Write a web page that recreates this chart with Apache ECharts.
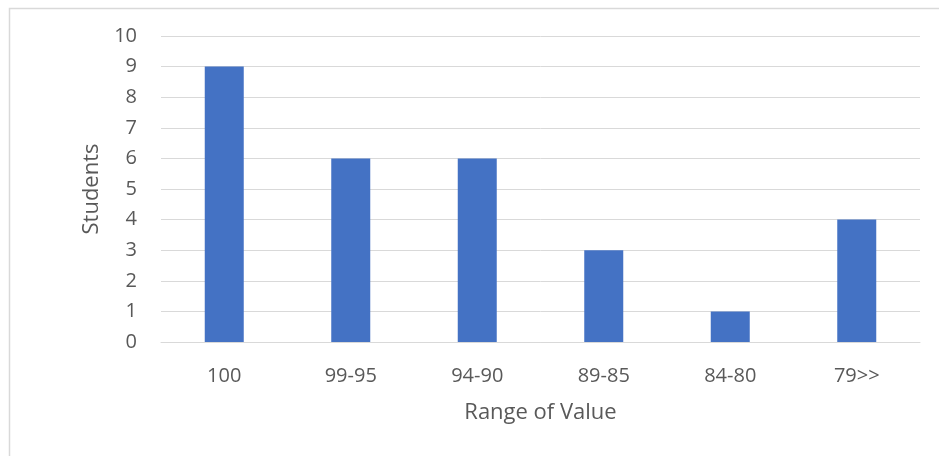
<!DOCTYPE html>
<html>
<head>
<meta charset="utf-8">
<script src="https://cdn.jsdelivr.net/npm/echarts@6/dist/echarts.min.js"></script>
<style>
  html, body { margin: 0; padding: 0; background: #fff; }
  #chart { width: 939px; height: 456px; }
</style>
</head>
<body>
<div id="chart"></div>
<script>
// Score ranges and the number of students in each
const categories = ['100', '99-95', '94-90', '89-85', '84-80', '79>>'];
const students = [9, 6, 6, 3, 1, 4];
const yTicks = { min: 0, max: 10, interval: 1 };

const textColor = '#595959';
const fontFamily = 'Open Sans, Liberation Sans, sans-serif';

const chart = echarts.init(document.getElementById('chart'), null, { renderer: 'canvas' });

chart.setOption({
  animation: false,
  backgroundColor: '#ffffff',
  graphic: [{
    type: 'rect',
    left: 7, top: 6,
    shape: { width: 960, height: 480 },
    style: { fill: 'none', stroke: '#d9d9d9', lineWidth: 1.5 },
    silent: true
  }],
  grid: { left: 161, right: 19, top: 36, bottom: 114, containLabel: false },
  xAxis: {
    type: 'category',
    data: categories,
    name: 'Range of Value',
    nameLocation: 'middle',
    nameGap: 60,
    nameTextStyle: { color: textColor, fontSize: 22, fontFamily: fontFamily },
    axisLine: { show: true, lineStyle: { color: '#d9d9d9', width: 1 } },
    axisTick: { show: false },
    axisLabel: { color: textColor, fontSize: 20, fontFamily: fontFamily, margin: 24 }
  },
  yAxis: {
    type: 'value',
    min: yTicks.min,
    max: yTicks.max,
    interval: yTicks.interval,
    name: 'Students',
    nameLocation: 'middle',
    nameGap: 58,
    nameRotate: 90,
    nameTextStyle: { color: textColor, fontSize: 22, fontFamily: fontFamily },
    axisLine: { show: false },
    axisTick: { show: false },
    axisLabel: { color: textColor, fontSize: 20, fontFamily: fontFamily, margin: 24 },
    splitLine: { lineStyle: { color: '#d9d9d9', width: 1 } }
  },
  series: [{
    type: 'bar',
    data: students,
    barWidth: 39,
    itemStyle: { color: '#4472c4' }
  }]
});
</script>
</body>
</html>
